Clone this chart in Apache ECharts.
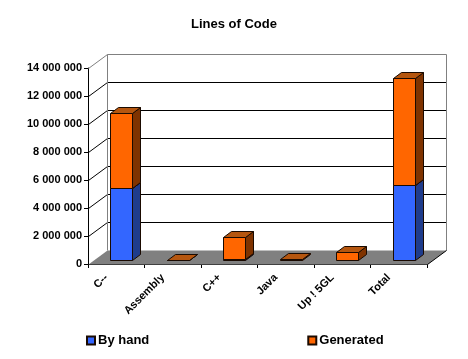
<!DOCTYPE html>
<html>
<head>
<meta charset="utf-8">
<script src="https://cdn.jsdelivr.net/npm/echarts@6/dist/echarts.min.js"></script>
<style>
  html, body { margin: 0; padding: 0; background: #fff; }
  #chart { width: 468px; height: 359px; }
</style>
</head>
<body>
<div id="chart"></div>
<script>
const categories = ["C--", "Assembly", "C++", "Java", "Up ! 5GL", "Total"];
const byHand = [5140000, 0, 100000, 0, 0, 5380000];
const generated = [5360000, 30000, 1590000, 60000, 600000, 7620000];
const yTicks = [0, 2000000, 4000000, 6000000, 8000000, 10000000, 12000000, 14000000];

// fake 3d offsets, in px
const wallDx = 18.5;
const wallDy = -14;
const barDx = 8;
const barDy = -6;
const barShift = 5;
const floorLift = -3.7;

const font = "'Liberation Sans', Arial, sans-serif";

// snap to the pixel grid so 1px lines stay crisp
const snap = (v) => Math.round(v) + 0.5;

function line(x1, y1, x2, y2, color) {
  return {
    type: "line",
    shape: { x1: snap(x1), y1: snap(y1), x2: snap(x2), y2: snap(y2) },
    style: { stroke: color, lineWidth: 1 },
  };
}

function poly(points, fill, stroke) {
  return {
    type: "polygon",
    shape: { points: points.map((p) => [snap(p[0]), snap(p[1])]) },
    style: { fill, stroke: stroke || null, lineWidth: 1 },
  };
}

function renderWalls(params, api) {
  const cs = params.coordSys;
  const left = cs.x;
  const right = cs.x + cs.width;
  const bottom = cs.y + cs.height;
  const children = [
    poly(
      [
        [left, bottom],
        [right, bottom],
        [right + wallDx, bottom + wallDy],
        [left + wallDx, bottom + wallDy],
      ],
      "#808080",
    ),
  ];
  yTicks.forEach((t) => {
    if (t === 0) return;
    const y = api.coord([0, t])[1];
    const isTop = t === yTicks[yTicks.length - 1];
    const c = isTop ? "#808080" : "#000";
    children.push(line(left, y, left + wallDx, y + wallDy, c));
    children.push(line(left + wallDx, y + wallDy, right + wallDx, y + wallDy, c));
  });
  const topY = api.coord([0, yTicks[yTicks.length - 1]])[1] + wallDy;
  children.push(line(left + wallDx, topY, left + wallDx, bottom + wallDy, "#808080"));
  children.push(line(right + wallDx, topY, right + wallDx, bottom + wallDy, "#808080"));
  children.push(line(right, bottom, right + wallDx, bottom + wallDy, "#000"));
  return { type: "group", children };
}

function makeBox(front, side, top) {
  return function (params, api) {
    const idx = api.value(0);
    const from = api.coord([idx, api.value(1)]);
    const to = api.coord([idx, api.value(2)]);
    if (api.value(2) === api.value(1)) return null;
    const w = api.size([1, 0])[0] * 0.385;
    const x0 = from[0] + barShift - w / 2;
    const x1 = x0 + w;
    const y0 = from[1] + floorLift;
    const y1 = to[1] + floorLift;
    return {
      type: "group",
      children: [
        poly([[x1, y0], [x1 + barDx, y0 + barDy], [x1 + barDx, y1 + barDy], [x1, y1]], side, "#1a0a00"),
        poly([[x0, y1], [x1, y1], [x1 + barDx, y1 + barDy], [x0 + barDx, y1 + barDy]], top, "#1a0a00"),
        poly([[x0, y0], [x1, y0], [x1, y1], [x0, y1]], front, "#1a0a00"),
      ],
    };
  };
}

const handData = categories.map((c, i) => [i, 0, byHand[i]]);
const genData = categories.map((c, i) => [i, byHand[i], byHand[i] + generated[i]]);

const chart = echarts.init(document.getElementById("chart"));
chart.setOption({
  animation: false,
  backgroundColor: "#fff",
  textStyle: { fontFamily: font },
  title: {
    text: "Lines of Code",
    left: 186,
    top: 13,
    textStyle: { fontFamily: font, fontSize: 13, fontWeight: "bold", color: "#000" },
  },
  legend: {
    left: 81,
    top: 329,
    itemWidth: 8,
    itemHeight: 8,
    itemGap: 158,
    icon: "rect",
    textStyle: { fontFamily: font, fontSize: 13, fontWeight: "bold", color: "#000", padding: [0, 0, 0, -2] },
    data: ["By hand", "Generated"],
  },
  grid: { left: 88, right: 41, top: 68, bottom: 95 },
  xAxis: {
    type: "category",
    data: categories,
    axisLine: { lineStyle: { color: "#000", width: 1 } },
    axisTick: { show: true, alignWithLabel: false, length: 4, lineStyle: { color: "#000" } },
    axisLabel: {
      rotate: 45,
      interval: 0,
      margin: 2,
      padding: [0, 14, 0, 0],
      fontFamily: font,
      fontSize: 11,
      fontWeight: "bold",
      color: "#000",
    },
  },
  yAxis: {
    type: "value",
    min: 0,
    max: 14000000,
    interval: 2000000,
    axisLine: { show: true, lineStyle: { color: "#000", width: 1 } },
    axisTick: { show: true, length: 4, lineStyle: { color: "#000" } },
    splitLine: { show: false },
    axisLabel: {
      margin: 6,
      padding: [3, 0, 0, 0],
      fontFamily: font,
      fontSize: 11,
      fontWeight: "bold",
      color: "#000",
      formatter: (v) => String(v).replace(/\B(?=(\d{3})+$)/g, " "),
    },
  },
  series: [
    {
      name: "walls",
      type: "custom",
      coordinateSystem: "cartesian2d",
      clip: false,
      z: 1,
      silent: true,
      data: [[0, 0]],
      encode: { x: 0, y: 1 },
      renderItem: renderWalls,
    },
    {
      name: "By hand",
      type: "custom",
      coordinateSystem: "cartesian2d",
      clip: false,
      z: 2,
      itemStyle: { color: "#3366ff", borderColor: "#1a0a00", borderWidth: 1 },
      data: handData,
      encode: { x: 0, y: [1, 2] },
      renderItem: makeBox("#3366ff", "#1f3c8c", "#1f3c8c"),
    },
    {
      name: "Generated",
      type: "custom",
      coordinateSystem: "cartesian2d",
      clip: false,
      z: 3,
      itemStyle: { color: "#ff6600", borderColor: "#1a0a00", borderWidth: 1 },
      data: genData,
      encode: { x: 0, y: [1, 2] },
      renderItem: makeBox("#ff6600", "#7f3300", "#b5560f"),
    },
  ],
});
</script>
</body>
</html>
